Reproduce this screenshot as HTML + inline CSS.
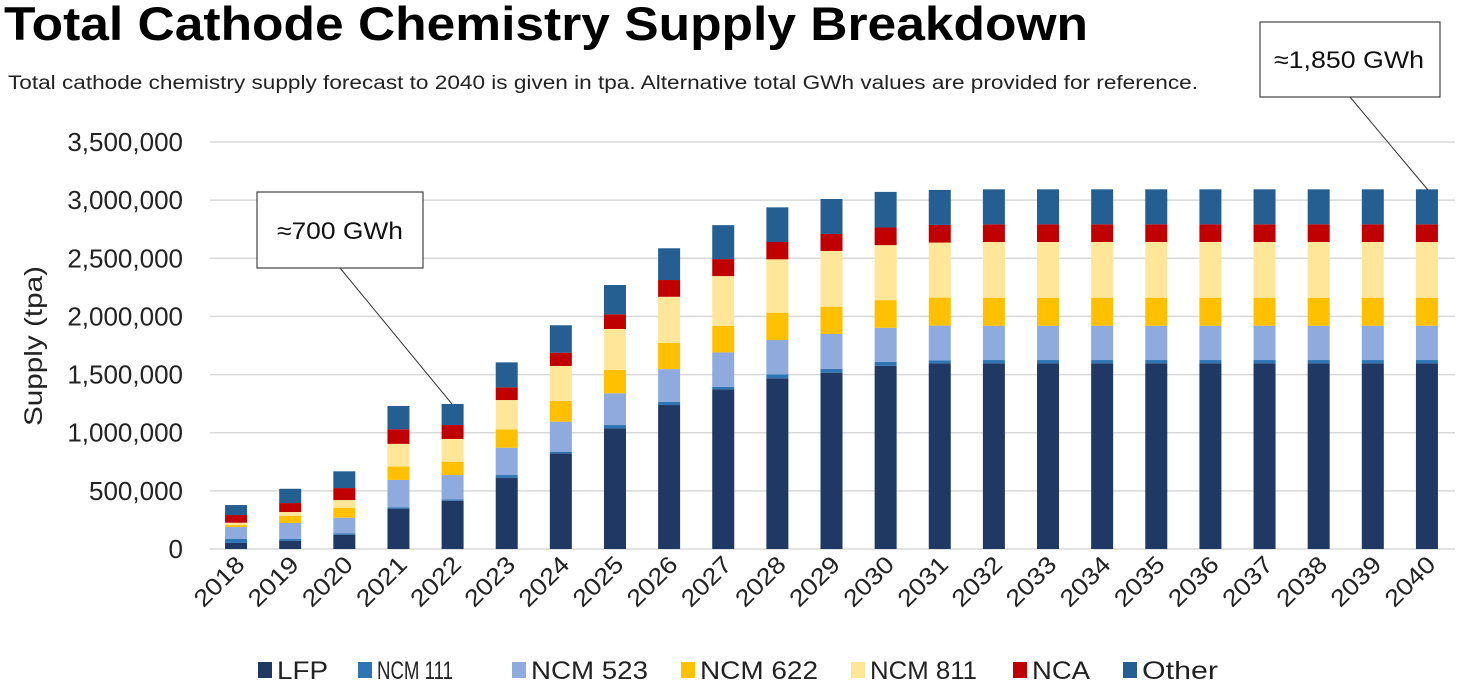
<!DOCTYPE html>
<html><head><meta charset="utf-8"><style>
body{margin:0;background:#fff;width:1460px;height:687px;overflow:hidden;font-family:"Liberation Sans",sans-serif}
svg{display:block}
</style></head><body>
<svg id="chart" width="1460" height="687" xmlns="http://www.w3.org/2000/svg">
<text x="4" y="40" font-size="47" font-weight="bold" fill="#000" textLength="1084" lengthAdjust="spacingAndGlyphs">Total Cathode Chemistry Supply Breakdown</text>
<text x="8" y="89" font-size="19" fill="#222" textLength="1190" lengthAdjust="spacingAndGlyphs">Total cathode chemistry supply forecast to 2040 is given in tpa. Alternative total GWh values are provided for reference.</text>
<text transform="translate(42,346) rotate(-90)" text-anchor="middle" font-size="25" fill="#222" textLength="160" lengthAdjust="spacingAndGlyphs">Supply (tpa)</text>
<g id="grid"></g><g id="bars"></g><g id="xlabels"></g><g id="legend"></g>
<line x1="340" y1="268" x2="452" y2="404" stroke="#333" stroke-width="1"/>
<rect x="257" y="192" width="166" height="76" fill="#fff" stroke="#444" stroke-width="1.2"/>
<text x="340" y="239" text-anchor="middle" font-size="24" fill="#111" textLength="126" lengthAdjust="spacingAndGlyphs">≈700 GWh</text>
<line x1="1350" y1="97" x2="1428" y2="190" stroke="#333" stroke-width="1"/>
<rect x="1260" y="22" width="180" height="75" fill="#fff" stroke="#444" stroke-width="1.2"/>
<text x="1349" y="68" text-anchor="middle" font-size="24" fill="#111" textLength="150" lengthAdjust="spacingAndGlyphs">≈1,850 GWh</text>
</svg>
<script>
const years=[2018,2019,2020,2021,2022,2023,2024,2025,2026,2027,2028,2029,2030,2031,2032,2033,2034,2035,2036,2037,2038,2039,2040];
const seriesNames=["LFP","NCM 111","NCM 523","NCM 622","NCM 811","NCA","Other"];
const lfp=[52000,71000,123000,347000,415000,613000,823000,1038000,1238000,1373000,1468000,1516000,1576000,1597000,1597000,1597000,1597000,1597000,1597000,1597000,1597000,1597000,1597000];
const ncm111=[34000,15000,12000,12000,12000,23000,14000,28000,28000,22000,34000,32000,34000,26000,28000,28000,28000,28000,28000,28000,28000,28000,28000];
const ncm523=[103000,138000,134000,235000,209000,235000,258000,273000,281000,296000,295000,301000,292000,298000,295000,295000,295000,295000,295000,295000,295000,295000,295000];
const ncm622=[17000,60000,86000,115000,115000,158000,178000,200000,226000,229000,235000,235000,238000,241000,241000,241000,241000,241000,241000,241000,241000,241000,241000];
const ncm811=[20000,34000,66000,195000,195000,252000,301000,353000,396000,427000,459000,479000,473000,473000,479000,479000,479000,479000,479000,479000,479000,479000,479000];
const nca=[66000,77000,103000,126000,120000,109000,114000,126000,144000,146000,149000,146000,152000,152000,152000,152000,152000,152000,152000,152000,152000,152000,152000];
const other=[86000,123000,144000,200000,181000,215000,236000,252000,273000,292000,298000,301000,306000,301000,301000,301000,301000,301000,301000,301000,301000,301000,301000];
const yTicks=[0,500000,1000000,1500000,2000000,2500000,3000000,3500000];
const yTickLabels=["0","500,000","1,000,000","1,500,000","2,000,000","2,500,000","3,000,000","3,500,000"];

const colors=["#1f3864","#2e75b6","#8faadc","#ffc000","#ffe699","#c00000","#255e91"];
const series=[lfp,ncm111,ncm523,ncm622,ncm811,nca,other];
const NS="http://www.w3.org/2000/svg";
const y0=549,yMaxPx=142,yMax=3500000,xL=210,xR=1455;
const yScale=v=>y0-(v/yMax)*(y0-yMaxPx);
const step=(xR-xL)/years.length;
const xCenter=i=>xL+step*(i+0.5)-1;
const bw=22;
function mk(tag,attrs,parent){const e=document.createElementNS(NS,tag);for(const k in attrs)e.setAttribute(k,attrs[k]);parent.appendChild(e);return e;}
const grid=document.getElementById('grid');
yTicks.forEach((t,i)=>{
  const l=mk('line',{x1:xL,x2:xR,y1:yScale(t),y2:yScale(t),stroke:'#d9d9d9','stroke-width':1.5},grid);
  
  
  const tx=mk('text',{x:183,y:yScale(t)+9,'text-anchor':'end','font-size':26,fill:'#222'},grid);
  tx.textContent=yTickLabels[i];
  
  
});
const bars=document.getElementById('bars');
years.forEach((yr,i)=>{
  let cum=0;
  series.forEach((s,k)=>{
    const a=yScale(cum),b=yScale(cum+s[i]);cum+=s[i];
    const r=mk('rect',{x:xCenter(i)-bw/2,y:b,width:bw,height:Math.max(0,a-b),fill:colors[k]},bars);
    
    
  });
  const tx=mk('text',{transform:`translate(${xCenter(i)+10},${566}) rotate(-45)`,'text-anchor':'end','font-size':24,fill:'#222',textLength:60,lengthAdjust:'spacingAndGlyphs'},document.getElementById('xlabels'));
  tx.textContent=yr;
  
  
});
const legX=[258,358,512,681,851,1013,1123];
const legW=[51,76,117,118,107,58,76];
const lg=document.getElementById('legend');
seriesNames.forEach((n,k)=>{
  const r=mk('rect',{x:legX[k],y:662,width:14,height:16,fill:colors[k]},lg);
  
  
  const t=mk('text',{x:legX[k]+19,y:679,'font-size':25,fill:'#222',textLength:legW[k],lengthAdjust:'spacingAndGlyphs'},lg);
  t.textContent=n;
  
  
});
</script>
</body></html>
